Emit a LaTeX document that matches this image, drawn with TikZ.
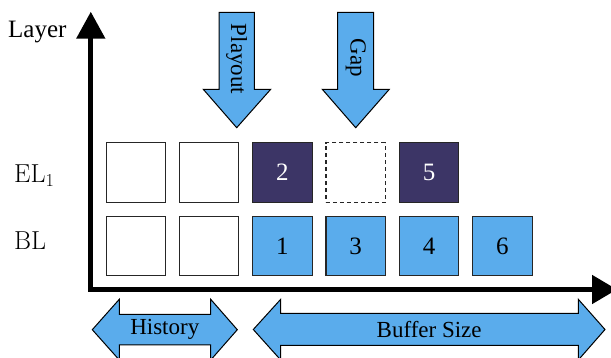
\documentclass[tikz,border=0pt]{standalone}
\usepackage{fontspec}
\setmainfont{Liberation Serif}
\newfontfamily\lmfont{Latin Modern Roman}
\usetikzlibrary{arrows.meta}
\definecolor{pktblue}{RGB}{90,172,236}
\definecolor{pktdark}{RGB}{60,53,102}
\tikzset{
  pkt/.style={draw=black!85, line width=1.1pt, minimum width=59.5pt, minimum height=59.5pt,
    inner sep=0pt, font=\fontsize{25}{29}\selectfont},
  emptypkt/.style={pkt, fill=white},
  basepkt/.style={pkt, fill=pktblue},
  enhpkt/.style={pkt, fill=pktdark, text=white},
  gappkt/.style={pkt, dashed, dash pattern=on 4pt off 3pt},
  bigarrow/.style={draw=black, line width=1pt, fill=pktblue, line join=miter},
  axis/.style={line width=5pt, line join=miter, {Triangle[length=27pt,width=28pt]}-{Triangle[length=25pt,width=28pt]}},
  lbl/.style={font=\fontsize{23}{27}\selectfont, inner sep=0pt},
  rowlbl/.style={anchor=base west, inner sep=0pt, font=\fontsize{26}{30}\selectfont\lmfont},
}
\begin{document}
\begin{tikzpicture}[x=1pt, y=-1pt]
  \useasboundingbox (0,0) rectangle (611,358);

  % axes
  \coordinate (ytip) at (90.8,11.7);
  \coordinate (origin) at (90.8,289.5);
  \coordinate (xtip) at (617,289.5);
  \draw[axis] (ytip) -- (origin) -- (xtip);

  % axis and row labels
  \node[anchor=base west, inner sep=0pt, font=\fontsize{25}{29}\selectfont] (layer) at (8,38) {Layer};
  \node[rowlbl] (el) at (14,183) {EL\textsubscript{1}};
  \node[rowlbl] (bl) at (14,249.5) {BL};

  % enhancement layer row
  \node[emptypkt] (e1) at (135.8,172.5) {};
  \node[emptypkt] (e2) at (209.1,172.5) {};
  \node[enhpkt]   (e3) at (282.4,172.5) {2};
  \node[gappkt]   (e4) at (355.7,172.5) {};
  \node[enhpkt]   (e5) at (429.0,172.5) {5};

  % base layer row
  \node[emptypkt] (b1) at (135.8,246) {};
  \node[emptypkt] (b2) at (209.1,246) {};
  \node[basepkt]  (b3) at (282.4,246) {1};
  \node[basepkt]  (b4) at (355.7,246) {3};
  \node[basepkt]  (b5) at (429.0,246) {4};
  \node[basepkt]  (b6) at (502.3,246) {6};

  % playout pointer
  \draw[bigarrow] (219,12.3) -- (254.3,12.3) -- (254.3,89.3) -- (270.7,89.3)
    -- (236.7,127.7) -- (203.3,89.3) -- (219,89.3) -- cycle;
  \node[lbl, rotate=-90] (playout) at (236.7,59) {Playout};

  % gap pointer
  \draw[bigarrow] (337.5,12.3) -- (373.5,12.3) -- (373.5,89.3) -- (389.3,89.3)
    -- (355.7,127.7) -- (322.3,89.3) -- (337.5,89.3) -- cycle;
  \node[lbl, rotate=-90] (gap) at (355.7,58) {Gap};

  % history span
  \draw[bigarrow] (92.3,329.7) -- (119.3,299.3) -- (119.3,314.3) -- (210.7,314.3)
    -- (210.7,299.3) -- (237.3,329.7) -- (210.7,360) -- (210.7,345) -- (119.3,345)
    -- (119.3,360) -- cycle;
  \node[lbl] (history) at (164.8,329.7) {History};

  % buffer span
  \draw[bigarrow] (253.3,329.5) -- (280.7,299.3) -- (280.7,313.5) -- (578.3,313.5)
    -- (578.3,299.3) -- (605,329.5) -- (578.3,360) -- (578.3,345.5) -- (280.7,345.5)
    -- (280.7,360) -- cycle;
  \node[lbl] (buffer) at (429.2,329.5) {Buffer Size};
\end{tikzpicture}
\end{document}
